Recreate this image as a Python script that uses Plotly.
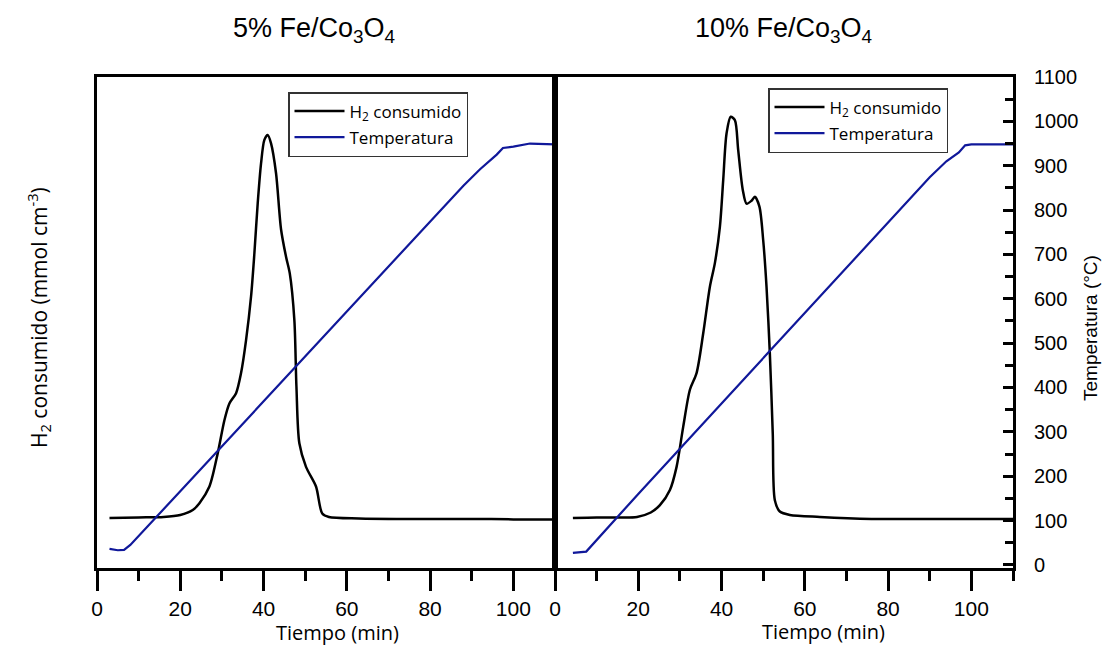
import plotly.graph_objects as go

# ---------------- data ----------------
# 5% Fe/Co3O4 : H2 consumption (arbitrary units, 0-1 axis) vs time (min)
t_h2_5 = [3, 10, 16, 20, 23, 24.6, 27.0, 29.0, 30.6, 31.8, 33.4, 34.6, 35.8, 37.0, 37.8,
          38.6, 39.4, 40.2, 41.0, 41.8, 43.0, 44.2, 45.4, 46.3, 47.4, 47.9, 48.6, 50.2,
          52.6, 54.1, 55.7, 62.9, 75, 90, 100, 110]
h2_5 = [0.102, 0.103, 0.104, 0.108, 0.118, 0.132, 0.166, 0.234, 0.301, 0.335, 0.356, 0.397,
        0.464, 0.553, 0.641, 0.743, 0.824, 0.872, 0.882, 0.865, 0.804, 0.690, 0.634, 0.600,
        0.505, 0.369, 0.254, 0.206, 0.166, 0.111, 0.104, 0.101, 0.100, 0.100, 0.099, 0.099]

# 5% Fe/Co3O4 : temperature (°C) vs time (min)
t_T_5 = [3, 5, 6.5, 8, 20, 40, 60, 80, 88, 92, 96, 97.5, 100, 104, 110]
T_5 = [36, 33, 34, 45, 166, 369, 572, 775, 855, 892, 925, 940, 943, 950, 948]

# 10% Fe/Co3O4 : H2 consumption
t_h2_10 = [4.3, 10, 15, 19.7, 23, 25.2, 27.6, 29.2, 30.8, 32.4, 34.0, 35.6, 37.2, 38.4, 39.6,
           40.4, 41.2, 42.2, 43.2, 44.0, 45.1, 46.0, 47.2, 48.0, 49.1, 50.0, 50.8, 51.6,
           52.3, 52.8, 54.0, 56.4, 63.6, 76, 90, 100, 110]
h2_10 = [0.102, 0.103, 0.103, 0.104, 0.113, 0.128, 0.159, 0.206, 0.288, 0.363, 0.397, 0.478,
         0.573, 0.621, 0.695, 0.790, 0.885, 0.919, 0.912, 0.851, 0.770, 0.742, 0.748, 0.756,
         0.736, 0.668, 0.573, 0.437, 0.274, 0.138, 0.115, 0.108, 0.104, 0.100, 0.100, 0.100,
         0.100]

# 10% Fe/Co3O4 : temperature
t_T_10 = [4.3, 6.5, 7.5, 20, 40, 60, 80, 90, 94, 97, 98.5, 100, 110]
T_10 = [27, 29, 30, 160, 364, 568, 772, 874, 910, 930, 946, 948, 948]

panel_titles = ["5% Fe/Co<sub>3</sub>O<sub>4</sub>", "10% Fe/Co<sub>3</sub>O<sub>4</sub>"]
x_ticks = [0, 20, 40, 60, 80, 100]
T_ticks = list(range(0, 1101, 100))

# ---------------- figure ----------------
BLUE = "#10189a"
W, H = 1107, 647
L, R, T, B = 97, 1013, 77, 568


def px_x(p):
    return (p - L) / (R - L)


def px_y(p):
    return (B - p) / (B - T)


fig = go.Figure()

fig.add_trace(go.Scatter(x=t_h2_5, y=h2_5, xaxis="x", yaxis="y", mode="lines",
                         line=dict(color="black", width=2.5, shape="spline", smoothing=0.8),
                         name="H<sub>2</sub> consumido", legend="legend", legendgroup="a"))
fig.add_trace(go.Scatter(x=t_T_5, y=T_5, xaxis="x", yaxis="y2", mode="lines",
                         line=dict(color=BLUE, width=2.2),
                         name="Temperatura", legend="legend", legendgroup="b"))
fig.add_trace(go.Scatter(x=t_h2_10, y=h2_10, xaxis="x2", yaxis="y3", mode="lines",
                         line=dict(color="black", width=2.5, shape="spline", smoothing=0.8),
                         name="H<sub>2</sub> consumido", legend="legend2", legendgroup="c"))
fig.add_trace(go.Scatter(x=t_T_10, y=T_10, xaxis="x2", yaxis="y4", mode="lines",
                         line=dict(color=BLUE, width=2.2),
                         name="Temperatura", legend="legend2", legendgroup="d"))

xcommon = dict(range=[0, 110], tickvals=x_ticks, ticks="outside", ticklen=20, tickwidth=3,
               tickcolor="black", showline=True, linewidth=3, linecolor="black", mirror=True,
               showgrid=False, zeroline=False,
               tickfont=dict(family="Liberation Sans, Arial", size=21, color="black"),
               minor=dict(ticks="outside", dtick=10, tick0=0, ticklen=10, tickwidth=3,
                          tickcolor="black", showgrid=False))
ycommon = dict(range=[0, 1], showticklabels=False, ticks="", showline=True, linewidth=3,
               linecolor="black", mirror=True, showgrid=False, zeroline=False)

legcommon = dict(bgcolor="white", bordercolor="#333333", borderwidth=1.5,
                 font=dict(family="Open Sans", size=17, color="black"),
                 xanchor="left", yanchor="top", itemwidth=50, tracegroupgap=1,
                 itemclick=False)

fig.update_layout(
    width=W, height=H,
    margin=dict(l=L, r=W - R, t=T, b=H - B),
    paper_bgcolor="white", plot_bgcolor="white",
    xaxis=dict(domain=[0, 0.5], anchor="y", **xcommon),
    xaxis2=dict(domain=[0.5, 1], anchor="y3", **xcommon),
    yaxis=dict(domain=[0, 1], anchor="x", **ycommon),
    yaxis2=dict(overlaying="y", anchor="x", range=[-7, 1100], visible=False),
    yaxis3=dict(domain=[0, 1], anchor="x2", **ycommon),
    yaxis4=dict(overlaying="y3", anchor="x2", side="right", range=[-7, 1100],
                tickvals=T_ticks, ticks="inside", ticklen=10, tickwidth=3, tickcolor="black",
                showline=True, linewidth=3, linecolor="black", showgrid=False,
                zeroline=False, ticklabelstandoff=14,
                tickfont=dict(family="Liberation Sans, Arial", size=20, color="black"),
                minor=dict(ticks="inside", dtick=50, tick0=0, ticklen=8, tickwidth=3,
                           tickcolor="black", showgrid=False)),
    legend=dict(x=px_x(288), y=px_y(92), **legcommon),
    legend2=dict(x=px_x(768), y=px_y(88), **legcommon),
    showlegend=True,
)

ann_font_title = dict(family="Liberation Sans, Arial", size=27, color="black")
ann_font_axis = dict(family="Open Sans", size=20, color="black")
annotations = [
    dict(text=panel_titles[0], x=px_x(314), y=px_y(30), font=ann_font_title),
    dict(text=panel_titles[1], x=px_x(783), y=px_y(30), font=ann_font_title),
    dict(text="Tiempo (min)", x=px_x(337), y=px_y(632.5), font=ann_font_axis),
    dict(text="Tiempo (min)", x=px_x(823), y=px_y(631), font=ann_font_axis),
    dict(text="H<sub>2</sub> consumido (mmol cm<sup>-3</sup>)", x=px_x(38), y=px_y(318),
         textangle=-90, font=dict(family="Open Sans", size=21, color="black")),
    dict(text="Temperatura (°C)", x=px_x(1090), y=px_y(328), textangle=-90,
         font=dict(family="Liberation Sans, Arial", size=19, color="black")),
]
for a in annotations:
    a.update(xref="paper", yref="paper", showarrow=False, xanchor="center", yanchor="middle")
fig.update_layout(annotations=annotations)

fig.write_html("out.html")
